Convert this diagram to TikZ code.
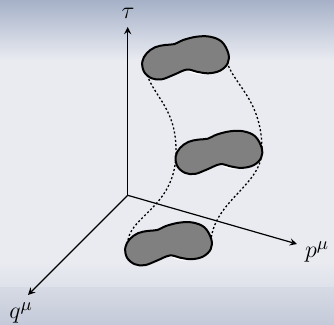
\documentclass[tikz,border=0pt]{standalone}
\usepackage{amsmath}

\definecolor{bgmid}{RGB}{233,235,241}
\definecolor{bgtop}{RGB}{166,177,200}
\definecolor{bgbotin}{RGB}{214,218,228}
\definecolor{bgbot}{RGB}{196,202,217}
\definecolor{blobgray}{RGB}{128,128,128}

\tikzset{
  axis/.style={semithick, -stealth},
  blobline/.style={line width=1pt, fill=blobgray},
  tube/.style={line width=0.65pt, dash pattern=on 1pt off 1.1pt},
  lbl/.style={font=\fontsize{13}{15}\selectfont, inner sep=0pt},
}

% one phase-space cell, drawn round the point (#1,#2)
\newcommand{\drawblob}[2]{%
  \begin{scope}[shift={(#1,#2)}]
    \fill[white] (2,12) .. controls (8,16) and (14,17) .. (21,16)
                        .. controls (13,14) and (7,12) .. cycle;
    \draw[blobline] plot[smooth cycle, tension=0.6] coordinates {
      (-43.1,3.3) (-38.7,-5.1) (-30.4,-11.1) (-20.4,-13.4) (-11,-14.3)
      (-2.1,-18.4) (11.3,-21.7) (24.6,-21.7) (36.3,-16.7) (42.9,-5.1)
      (42.3,4.9) (34.6,12.3) (22.9,14.9) (11.3,13.3) (1.3,11.2)
      (-12.1,16.6) (-23.7,20.9) (-33.7,19.9) (-41.4,13.3)};
  \end{scope}}

\begin{document}
\begin{tikzpicture}[x=0.5pt, y=-0.5pt]
  % background, in pixel units (y down)
  \useasboundingbox (0,0) rectangle (334,325);
  \fill[bgmid] (0,0) rectangle (334,325);
  \shade[top color=bgtop, bottom color=bgmid] (0,0) rectangle (334,60);
  \shade[top color=bgmid, bottom color=bgbotin!60!bgmid] (0,262) rectangle (334,288);
  \shade[top color=bgbotin, bottom color=bgbot] (0,288) rectangle (334,325);

  % axes: origin O
  \coordinate (O) at (127.7,195.3);
  \coordinate (taue) at (127.7,27);
  \coordinate (pe) at (297,244);
  \coordinate (qe) at (28,295);
  \draw[axis] (O) -- (taue);
  \draw[axis] (O) -- (pe);
  \draw[axis] (O) -- (qe);
  \node[lbl] (tau) at (128,13) {$\tau$};
  \node[lbl] (p) at (317,252) {$p^\mu$};
  \node[lbl] (q) at (21,313) {$q^\mu$};

  % centres of the three cells
  \coordinate (T) at (185.4,58.4);
  \coordinate (M) at (218.8,153);
  \coordinate (B) at (168.4,244.3);
  % where the dotted tube touches them
  \coordinate (Tl) at (145,67);
  \coordinate (Ml) at (176,150);
  \coordinate (Bl) at (128,240);
  \coordinate (Tr) at (227,62);
  \coordinate (Mr) at (262,150);
  \coordinate (Br) at (211,240);
  \draw[tube] (Tl) .. controls (150,95) and (176,105) .. (Ml)
                   .. controls (177,205) and (132,215) .. (Bl);
  \draw[tube] (Tr) .. controls (234,85) and (262,100) .. (Mr)
                   .. controls (262,185) and (215,200) .. (Br);

  \drawblob{185.4}{58.4}
  \drawblob{218.8}{153}
  \drawblob{168.4}{244.3}
\end{tikzpicture}
\end{document}
